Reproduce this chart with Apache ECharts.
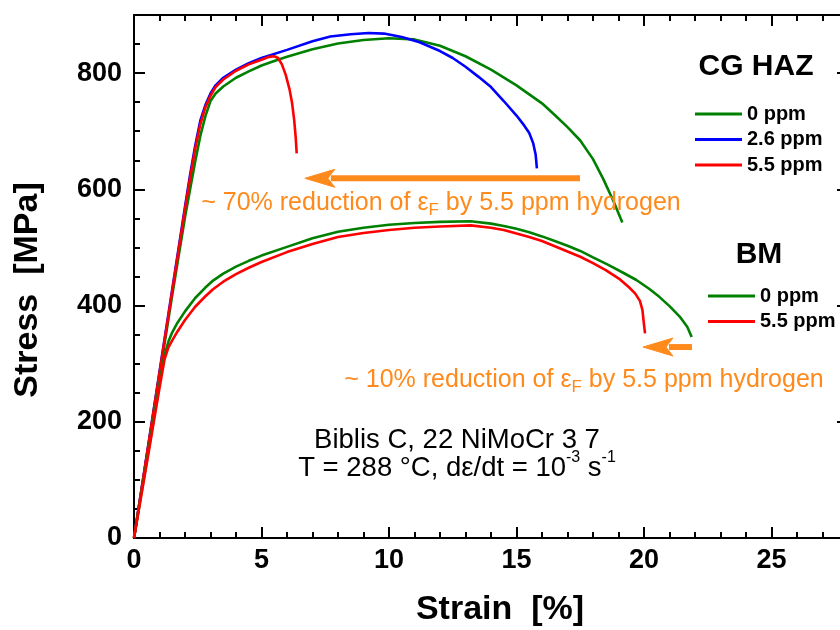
<!DOCTYPE html>
<html><head><meta charset="utf-8">
<script src="https://cdn.jsdelivr.net/npm/echarts@6/dist/echarts.min.js"></script>
<style>html,body{margin:0;padding:0;background:#fff}#c{width:840px;height:630px}</style>
</head><body><div id="c"></div>
<script>
// ---- data (strain %, stress MPa) ----
const cg0ppm = [[0,0],[0.5,140],[1,280],[1.5,418],[2,552],[2.2,600],[2.4,648],[2.6,692],[2.8,726],[3.0,752],[3.2,765],[3.5,777],[4.0,792],[4.5,803],[5.0,813],[5.5,821],[6.0,828],[7.0,841],[8.0,851],[9.0,857],[10.0,860],[11.0,858],[12.0,847],[13.0,829],[14.0,806],[15.0,779],[16.0,748],[16.5,728],[17.0,707],[17.5,684],[18.0,652],[18.4,618],[18.8,580],[19.15,543]];
const cg26ppm = [[0,0],[0.5,143],[1,286],[1.5,428],[2,570],[2.2,625],[2.4,675],[2.6,718],[2.8,745],[3.0,765],[3.2,779],[3.5,792],[4.0,806],[4.5,817],[5.0,826],[6.0,840],[7.0,855],[7.7,863],[8.5,867],[9.2,869],[9.8,868],[10.5,862],[11.2,853],[12.0,838],[12.5,826],[13.0,811],[13.5,794],[14.0,776],[14.5,752],[15.0,727],[15.3,710],[15.5,697],[15.65,680],[15.75,660],[15.8,636]];
const cg55ppm = [[0,0],[0.5,142],[1,284],[1.5,425],[2,566],[2.2,620],[2.4,670],[2.6,712],[2.8,741],[3.0,761],[3.2,776],[3.5,789],[4.0,804],[4.5,815],[5.0,823],[5.3,828],[5.5,829],[5.65,826],[5.8,815],[5.95,797],[6.1,772],[6.2,748],[6.28,720],[6.34,690],[6.38,662]];
const bm0ppm = [[0,0],[0.5,132],[1.0,265],[1.2,315],[1.35,338],[1.5,354],[1.7,370],[2.0,390],[2.4,413],[2.8,431],[3.1,443],[3.5,455],[4,467],[4.5,477],[5,486],[6,501],[7,516],[8,527],[9,534],[10,539],[11,542],[12,544],[13.2,545],[14,541],[14.5,537],[15,532],[15.5,526],[16,519],[16.5,511],[17,503],[17.5,494],[18,483],[18.6,470],[19.2,456],[19.7,444],[20.2,429],[20.6,415],[21.0,399],[21.4,381],[21.7,363],[21.87,346]];
const bm55ppm = [[0,0],[0.5,128],[1.0,258],[1.2,308],[1.35,328],[1.5,340],[1.7,355],[2.0,375],[2.4,398],[2.8,416],[3.1,428],[3.5,441],[4,454],[4.5,465],[5,475],[6,492],[7,506],[8,518],[9,525],[10,530],[11,534],[12,536],[13.2,538],[14,534],[14.5,530],[15,524],[15.5,518],[16,511],[16.5,502],[17,493],[17.5,484],[18,473],[18.5,461],[19.06,445],[19.4,432],[19.65,421],[19.84,408],[19.94,392],[19.98,375],[20.04,352]];
const cgNames = ['CG 0 ppm','CG 2.6 ppm','CG 5.5 ppm'];
const bmNames = ['BM 0 ppm','BM 5.5 ppm'];
// annotation arrows (tail, tip) in data coords
const arrowCG = [[17.49,619],[6.7,619]];
const arrowBM = [[21.88,328.6],[19.96,328.6]];
const xRange = [0,28], yRange = [0,900];
const xMajor = 5, xMinorSplit = 5, yMajor = 200, yMinorSplit = 4;

const FF = "'Liberation Sans', Arial, Helvetica, sans-serif";
const ORANGE = '#ff8a1c';
const chart = echarts.init(document.getElementById('c'));

function axisCommon(show, fmtStep, margin){
  return {
    axisLine:{show:true, onZero:false, lineStyle:{color:'#000', width:2}},
    axisTick:{show:true, inside:true, length:11, lineStyle:{color:'#000', width:2}},
    minorTick:{show:true, length:6, lineStyle:{color:'#000', width:2}},
    axisLabel:{show:show, color:'#000', fontSize:27, fontWeight:'bold', fontFamily:FF, margin:margin,
      formatter: v => (v % fmtStep === 0 ? String(v) : '')},
    splitLine:{show:false}
  };
}
function xAx(pos, show){
  const a = axisCommon(show, xMajor, 9);
  a.minorTick.splitNumber = xMinorSplit;
  return Object.assign({type:'value', position:pos, min:xRange[0], max:xRange[1], interval:xMajor}, a);
}
function yAx(pos, show){
  const a = axisCommon(show, yMajor, 12);
  a.minorTick.splitNumber = yMinorSplit;
  return Object.assign({type:'value', position:pos, min:yRange[0], max:yRange[1], interval:yMajor}, a);
}
function ser(name, data, color){
  return {name:name, type:'line', data:data, xAxisIndex:0, yAxisIndex:0, showSymbol:false, symbol:'none',
    smooth:false, lineStyle:{color:color, width:2.6}, itemStyle:{color:color}};
}
const legendCommon = {orient:'vertical', icon:'rect', itemWidth:47, itemHeight:3, itemGap:5.5,
  textStyle:{color:'#000', fontSize:20, fontWeight:'bold', fontFamily:FF, lineHeight:20},
  formatter: n => n.replace(/^(CG|BM) /,''), selectedMode:false};

chart.setOption({
  animation:false,
  grid:{left:134, top:15, width:714, height:523, containLabel:false, outerBoundsMode:'none'},
  xAxis:[xAx('bottom',true), xAx('top',false)],
  yAxis:[yAx('left',true), yAx('right',false)],
  legend:[
    Object.assign({}, legendCommon, {data:cgNames, left:690, top:99}),
    Object.assign({}, legendCommon, {data:bmNames, left:703, top:281})
  ],
  series:[
    ser(cgNames[0], cg0ppm, '#008000'),
    ser(cgNames[1], cg26ppm, '#0000ff'),
    ser(cgNames[2], cg55ppm, '#ff0000'),
    ser(bmNames[0], bm0ppm, '#008000'),
    ser(bmNames[1], bm55ppm, '#ff0000')
  ]
});

const P = v => chart.convertToPixel({gridIndex:0}, v);
function arrowEls(arr){
  const t = P(arr[0]);
  const h = P(arr[1]);
  const L = 30, W = 9, N = 7;
  return [
    {type:'line', z:50, shape:{x1:t[0], y1:t[1], x2:h[0]+L-4, y2:h[1]}, style:{stroke:ORANGE, lineWidth:6}},
    {type:'polygon', z:50, shape:{points:[[h[0],h[1]],[h[0]+L,h[1]-W],[h[0]+L-N,h[1]],[h[0]+L,h[1]+W]]}, style:{fill:ORANGE, stroke:ORANGE, lineWidth:1, lineJoin:'round'}}
  ];
}
function txt(x,y,text,size,weight,color,extra){
  return Object.assign({type:'text', z:60, x:x, y:y, style:{text:text, fill:color||'#000', fontSize:size, fontWeight:weight||'normal', fontFamily:FF, align:'center', verticalAlign:'middle'}}, extra||{});
}
function richTxt(x,y,text,rich){
  return {type:'text', z:60, x:x, y:y, style:{text:text, rich:rich, align:'center', verticalAlign:'middle'}};
}
const annRich = {
  a:{fontSize:25, fill:ORANGE, fontFamily:FF, lineHeight:32, verticalAlign:'middle'},
  s:{fontSize:17, fill:ORANGE, fontFamily:FF, lineHeight:20, verticalAlign:'bottom'}
};
const supRich = {
  a:{fontSize:27.5, fill:'#000', fontFamily:FF, lineHeight:36, verticalAlign:'middle'},
  p:{fontSize:16, fill:'#000', fontFamily:FF, lineHeight:18, verticalAlign:'top'}
};

chart.setOption({graphic:[
  txt(500, 610, 'Strain  [%]', 34, 'bold'),
  txt(28, 290, 'Stress  [MPa]', 34, 'bold', '#000', {rotation:Math.PI/2}),
  txt(756, 67, 'CG HAZ', 30, 'bold'),
  txt(759, 255, 'BM', 30, 'bold'),
  richTxt(441, 203, '{a|~ 70% reduction of ε}{s|F}{a| by 5.5 ppm hydrogen}', annRich),
  richTxt(584, 380, '{a|~ 10% reduction of ε}{s|F}{a| by 5.5 ppm hydrogen}', annRich),
  txt(457, 440, 'Biblis C, 22 NiMoCr 3 7', 27.5),
  richTxt(457, 468, '{a|T = 288 °C, dε/dt = 10}{p|-3}{a| s}{p|-1}', supRich)
].concat(arrowEls(arrowCG), arrowEls(arrowBM))});
</script></body></html>
